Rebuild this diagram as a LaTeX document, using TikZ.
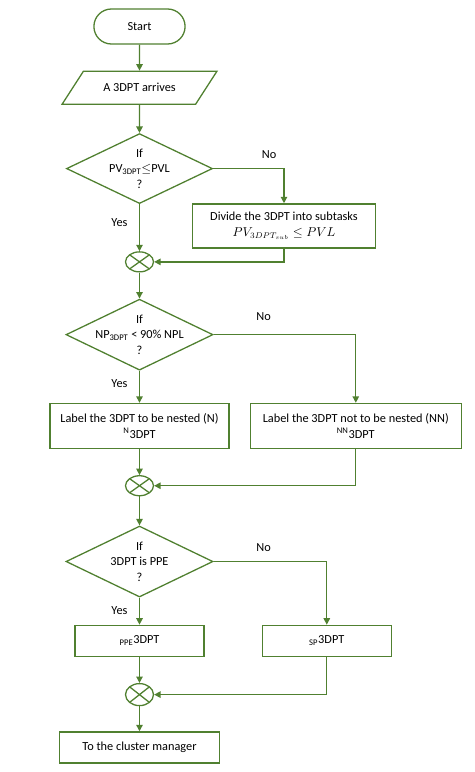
\documentclass[tikz,border=0pt]{standalone}
\usepackage{fontspec}
\setmainfont{Carlito}
\usetikzlibrary{positioning,shapes.geometric,shapes.misc,arrows.meta,calc}
\definecolor{flowgreen}{RGB}{80,128,48}

\begin{document}
\begin{tikzpicture}[
    node distance=0.78cm,
    font=\fontsize{10.5}{13.2}\selectfont,
    box/.style={rectangle, draw=flowgreen, line width=1.1pt, align=center, inner sep=2pt},
    startstop/.style={rounded rectangle, draw=flowgreen, line width=1.1pt, minimum width=2.97cm, minimum height=1.05cm},
    io/.style={trapezium, trapezium left angle=47, trapezium right angle=133, trapezium stretches=true, draw=flowgreen, line width=1.1pt, minimum width=4.68cm, minimum height=0.99cm},
    decision/.style={diamond, draw=flowgreen, line width=1.1pt, minimum width=4.38cm, minimum height=2.1cm, inner sep=0pt},
    merge/.style={ellipse, draw=flowgreen, line width=1.1pt, minimum width=0.84cm, minimum height=0.6cm, inner sep=0pt,
        path picture={\draw[flowgreen, line width=1.1pt] (path picture bounding box.north west) -- (path picture bounding box.south east)
            (path picture bounding box.north east) -- (path picture bounding box.south west);}},
    arrow/.style={-{Triangle[length=5.5pt,width=5.5pt]}, draw=flowgreen, line width=1.1pt},
    lbl/.style={inner sep=1pt}
]

% ===== MAIN COLUMN =====
\node[startstop] (start) at (0,0) {Start};
\node[io, below=0.78cm of start] (input) {A 3DPT arrives};
\node[decision, below=0.84cm of input, label={[align=center]center:If\\PV\textsubscript{3DPT}$\leq$PVL\\?}] (d1) {};
\node[merge, below=1.41cm of d1] (c1) {};
\node[decision, below=of c1, minimum width=4.41cm, minimum height=2.13cm, label={[align=center]center:If\\NP\textsubscript{3DPT} < 90\% NPL\\?}] (d2) {};
\node[box, below=0.96cm of d2, minimum width=5.37cm, minimum height=1.35cm] (labN) {Label the 3DPT to be nested (N)\\\textsuperscript{N}3DPT};
\node[merge, below=of labN] (c2) {};
\node[decision, below=0.87cm of c2, minimum width=4.41cm, minimum height=2.13cm, label={[align=center]center:If\\3DPT is PPE\\?}] (d3) {};
\node[box, below=0.81cm of d3, minimum width=3.87cm, minimum height=0.93cm] (ppe) {\textsubscript{PPE}3DPT};
\node[merge, below=of ppe, minimum height=0.66cm] (c3) {};
\node[box, below=0.75cm of c3, minimum width=4.8cm, minimum height=0.93cm] (manager) {To the cluster manager};

% ===== RIGHT BRANCHES =====
\node[box, anchor=north, minimum width=5.49cm, minimum height=1.32cm] (divide) at ($(d1.south)+(4.335cm,0.03cm)$) {Divide the 3DPT into subtasks\\$PV_{3DPT_{sub}} \leq PVL$};
\node[box, right=0.6cm of labN, minimum width=6.33cm, minimum height=1.35cm] (labNN) {Label the 3DPT not to be nested (NN)\\\textsuperscript{NN}3DPT};
\node[box, right=1.71cm of ppe, minimum width=3.87cm, minimum height=0.93cm] (sp) {\textsubscript{SP}3DPT};

% ===== YES / NO =====
\node[lbl] (yes1) at ($(d1.south)+(-0.6cm,-0.54cm)$) {Yes};
\node[lbl] (yes2) at ($(d2.south)+(-0.6cm,-0.39cm)$) {Yes};
\node[lbl] (yes3) at ($(d3.south)+(-0.6cm,-0.39cm)$) {Yes};
\node[lbl] (no1) at ($(d1.east)+(1.68cm,0.42cm)$) {No};
\node[lbl] (no2) at ($(d2.east)+(1.5cm,0.54cm)$) {No};
\node[lbl] (no3) at ($(d3.east)+(1.5cm,0.42cm)$) {No};

% ===== ARROWS =====
\draw[arrow] (start) -- (input);
\draw[arrow] (input) -- (d1);
\draw[arrow] (d1) -- (c1);
\draw[arrow] (d1.east) -| (divide.north);
\draw[arrow] (divide.south) |- (c1.east);
\draw[arrow] (c1) -- (d2);
\draw[arrow] (d2) -- (labN);
\draw[arrow] (d2.east) -| (labNN.north);
\draw[arrow] (labN) -- (c2);
\draw[arrow] (labNN.south) |- (c2.east);
\draw[arrow] (c2) -- (d3);
\draw[arrow] (d3) -- (ppe);
\draw[arrow] (d3.east) -| (sp.north);
\draw[arrow] (ppe) -- (c3);
\draw[arrow] (sp.south) |- (c3.east);
\draw[arrow] (c3) -- (manager);

\useasboundingbox (-4.185,0.795) rectangle (10.035,-22.365);
\end{tikzpicture}
\end{document}
